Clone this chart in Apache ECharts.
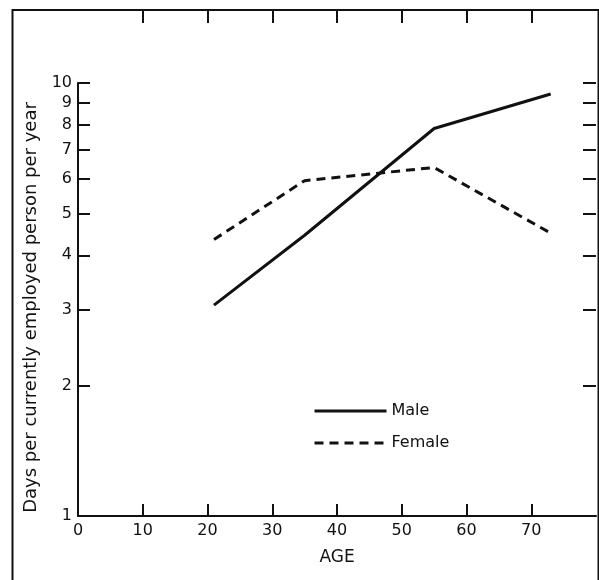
<!DOCTYPE html>
<html>
<head>
<meta charset="utf-8">
<script src="https://cdn.jsdelivr.net/npm/echarts@6/dist/echarts.min.js"></script>
<style>
  html, body { margin: 0; padding: 0; background: #fff; }
  #chart { width: 599px; height: 580px; }
</style>
</head>
<body>
<div id="chart"></div>
<script>
// ---- data ----
const ages = [21, 35, 55, 73];
const maleDays = [3.07, 4.45, 7.85, 9.43];
const femaleDays = [4.35, 5.95, 6.38, 4.5];
const xTickValues = [10, 20, 30, 40, 50, 60, 70];
const yTickValues = [1, 2, 3, 4, 5, 6, 7, 8, 9, 10];
const yRightTickValues = [2, 3, 4, 5, 6, 7, 8, 9, 10];
const seriesNames = ['Male', 'Female'];
const xAxisTitle = 'AGE';
const yAxisTitle = 'Days per currently employed person per year';

const ink = '#111';
const font = 'DejaVu Sans';

const chart = echarts.init(document.getElementById('chart'), null, { renderer: 'canvas' });

const pairs = (xs, ys) => xs.map((x, i) => [x, ys[i]]);

chart.setOption({
  animation: false,
  backgroundColor: '#fff',
  grid: { left: 78, right: 1, top: 83, bottom: 64, containLabel: false },
  graphic: [
    {
      type: 'rect',
      shape: { x: 12.5, y: 10, width: 586, height: 640 },
      style: { fill: 'none', stroke: ink, lineWidth: 2 },
      silent: true
    }
  ],
  legend: {
    orient: 'vertical',
    left: 313,
    top: 403,
    padding: 0,
    itemWidth: 72,
    itemHeight: 14,
    itemGap: 16,
    data: seriesNames,
    itemStyle: { color: 'rgba(0,0,0,0)', borderColor: 'rgba(0,0,0,0)', borderWidth: 0 },
    lineStyle: { width: 3 },
    textStyle: { fontFamily: font, fontSize: 16, color: ink }
  },
  xAxis: [
    {
      type: 'value',
      min: 0,
      max: 80,
      interval: 10,
      name: xAxisTitle,
      nameLocation: 'middle',
      nameGap: 33,
      nameTextStyle: { fontFamily: font, fontSize: 17, color: ink },
      axisLine: { show: true, lineStyle: { color: ink, width: 2 } },
      axisTick: { show: true, inside: true, length: 12, lineStyle: { color: ink, width: 2 }, customValues: xTickValues },
      axisLabel: {
        fontFamily: font, fontSize: 16, color: ink, margin: 7,
        formatter: v => (v >= 80 ? '' : String(v))
      },
      splitLine: { show: false }
    },
    {
      type: 'value',
      position: 'top',
      offset: 73,
      min: 0,
      max: 80,
      interval: 10,
      axisLine: { show: false, onZero: false },
      axisTick: { show: true, inside: true, length: 13, lineStyle: { color: ink, width: 2 }, customValues: xTickValues },
      axisLabel: { show: false },
      splitLine: { show: false }
    }
  ],
  yAxis: [
    {
      type: 'log',
      logBase: 10,
      min: 1,
      max: 10,
      name: yAxisTitle,
      nameLocation: 'middle',
      nameRotate: 90,
      nameGap: 36,
      nameTextStyle: { fontFamily: font, fontSize: 18, color: ink, padding: [0, 16, 0, 0] },
      axisLine: { show: true, onZero: false, lineStyle: { color: ink, width: 2 } },
      axisTick: { show: true, inside: true, length: 12, lineStyle: { color: ink, width: 2 }, customValues: yTickValues },
      axisLabel: { fontFamily: font, fontSize: 16, color: ink, margin: 6, customValues: yTickValues },
      splitLine: { show: false },
      minorTick: { show: false }
    },
    {
      type: 'log',
      logBase: 10,
      min: 1,
      max: 10,
      position: 'right',
      axisLine: { show: false, onZero: false },
      axisTick: { show: true, inside: true, length: 13, lineStyle: { color: ink, width: 2 }, customValues: yRightTickValues },
      axisLabel: { show: false },
      splitLine: { show: false }
    }
  ],
  series: [
    {
      name: seriesNames[0],
      type: 'line',
      data: pairs(ages, maleDays),
      symbol: 'none',
      lineStyle: { color: ink, width: 3, type: 'solid' },
      itemStyle: { color: ink }
    },
    {
      name: seriesNames[1],
      type: 'line',
      data: pairs(ages, femaleDays),
      symbol: 'none',
      lineStyle: { color: ink, width: 3, type: [9, 6] },
      itemStyle: { color: ink }
    }
  ]
});
</script>
</body>
</html>
